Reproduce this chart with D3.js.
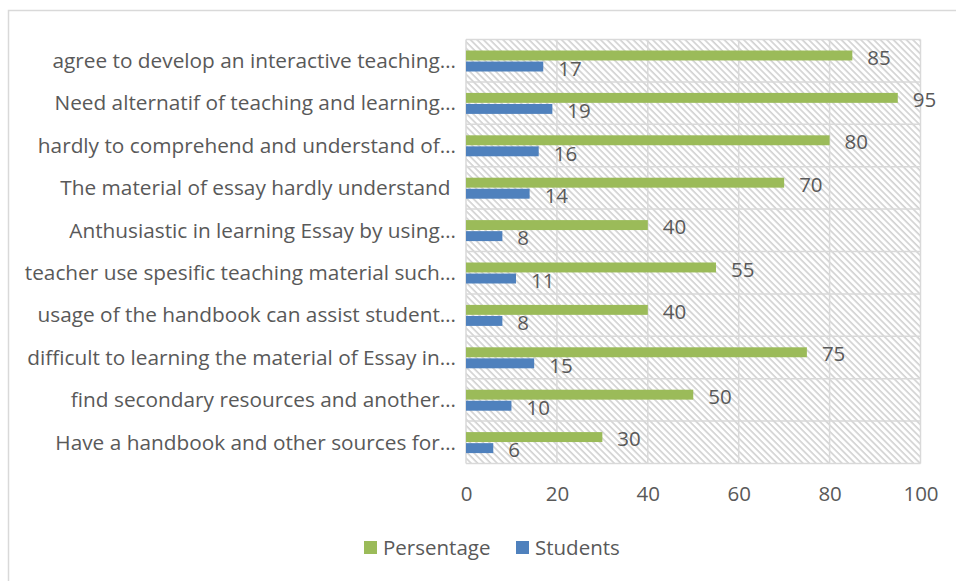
<!DOCTYPE html>
<meta charset="utf-8">
<style>
    body { margin: 0; background: #fff; }
    text { font-family: "Open Sans", sans-serif; fill: #595959; }
    .cat { font-size: 20.8px; white-space: pre; }
    .num { font-size: 20.5px; }
    .grid line { stroke: #d9d9d9; stroke-width: 1.5; }
</style>
<svg width="956" height="581"></svg>
<script src="https://cdn.jsdelivr.net/npm/d3@7"></script>
<script>

    var categories = [
        "agree to develop an interactive teaching…",
        "Need alternatif of teaching and learning…",
        "hardly to comprehend and understand of…",
        "The material of essay hardly understand ",
        "Anthusiastic in learning Essay by using…",
        "teacher use spesific teaching material such…",
        "usage of the handbook can assist student…",
        "difficult to learning the material of Essay in…",
        "find secondary resources and another…",
        "Have a handbook and other sources for…"
    ];
    var persentage = [85, 95, 80, 70, 40, 55, 40, 75, 50, 30];
    var students = [17, 19, 16, 14, 8, 11, 8, 15, 10, 6];
    var seriesNames = ["Persentage", "Students"];
    var seriesColors = ["#9bbb59", "#4f81bd"];
    var xTicks = [0, 20, 40, 60, 80, 100];

    var svg = d3.select("svg");

    // outer chart border
    svg.append("rect")
        .attr("x", 8.5).attr("y", 10.5)
        .attr("width", 960).attr("height", 600)
        .attr("fill", "none")
        .attr("stroke", "#d9d9d9")
        .attr("stroke-width", 1.5);

    var pLeft = 466, pRight = 920.5, pTop = 39.5, pBottom = 463.5;

    var x = d3.scaleLinear().domain([0, 100]).range([pLeft, pRight]);
    var y = d3.scaleBand().domain(categories).range([pTop, pBottom]);
    var inner = d3.scaleBand().domain(seriesNames).range([11, 32]).paddingInner(0.1);

    // hatched plot background
    var pat = svg.append("defs").append("pattern")
        .attr("id", "hatch")
        .attr("patternUnits", "userSpaceOnUse")
        .attr("width", 4.6).attr("height", 4.6)
        .attr("patternTransform", "rotate(-45)");
    pat.append("line")
        .attr("x1", 1).attr("x2", 1)
        .attr("y1", 0).attr("y2", 4.6)
        .attr("stroke", "#cacaca")
        .attr("stroke-width", 1.4);

    svg.append("rect")
        .attr("x", pLeft).attr("y", pTop)
        .attr("width", pRight - pLeft).attr("height", pBottom - pTop)
        .attr("fill", "url(#hatch)");

    var grid = svg.append("g").attr("class", "grid");
    grid.selectAll(".v").data(xTicks).enter().append("line")
        .attr("x1", d => x(d)).attr("x2", d => x(d))
        .attr("y1", pTop).attr("y2", pBottom);
    grid.selectAll(".h").data(categories.concat(["end"])).enter().append("line")
        .attr("x1", pLeft).attr("x2", pRight)
        .attr("y1", (d, i) => i < categories.length ? y(d) : pBottom)
        .attr("y2", (d, i) => i < categories.length ? y(d) : pBottom);

    var series = [persentage, students];

    series.forEach(function (vals, s) {
        var g = svg.append("g");
        g.selectAll("rect").data(vals).enter().append("rect")
            .attr("x", x(0))
            .attr("y", (d, i) => y(categories[i]) + inner(seriesNames[s]))
            .attr("width", d => x(d) - x(0))
            .attr("height", inner.bandwidth())
            .attr("fill", seriesColors[s]);
        g.selectAll("text").data(vals).enter().append("text")
            .attr("class", "num")
            .attr("x", d => x(d) + 15)
            .attr("y", (d, i) => y(categories[i]) + inner(seriesNames[s]) + inner.bandwidth() / 2 + 2)
            .attr("dy", "0.35em")
            .text(d => d);
    });

    // category labels
    svg.append("g").selectAll("text").data(categories).enter().append("text")
        .attr("class", "cat")
        .attr("x", pLeft - 10)
        .attr("y", d => y(d) + y.bandwidth() / 2)
        .attr("dy", "0.35em")
        .attr("text-anchor", "end")
        .text(d => d);

    // x axis labels
    var ax = svg.append("g")
        .attr("transform", "translate(0," + pBottom + ")")
        .call(d3.axisBottom(x).tickValues(xTicks).tickSize(0).tickPadding(23));
    ax.select(".domain").remove();
    ax.selectAll("text").attr("class", "num").attr("fill", null);
    ax.attr("font-family", null).attr("font-size", null);

    // legend
    var legX = [364, 516];
    var leg = svg.append("g").selectAll("g").data(seriesNames).enter().append("g")
        .attr("transform", (d, i) => "translate(" + legX[i] + ",541)");
    leg.append("rect").attr("width", 13).attr("height", 13)
        .attr("fill", (d, i) => seriesColors[i]);
    leg.append("text").attr("class", "num")
        .attr("x", 19).attr("y", 7).attr("dy", "0.35em")
        .text(d => d);

</script>
